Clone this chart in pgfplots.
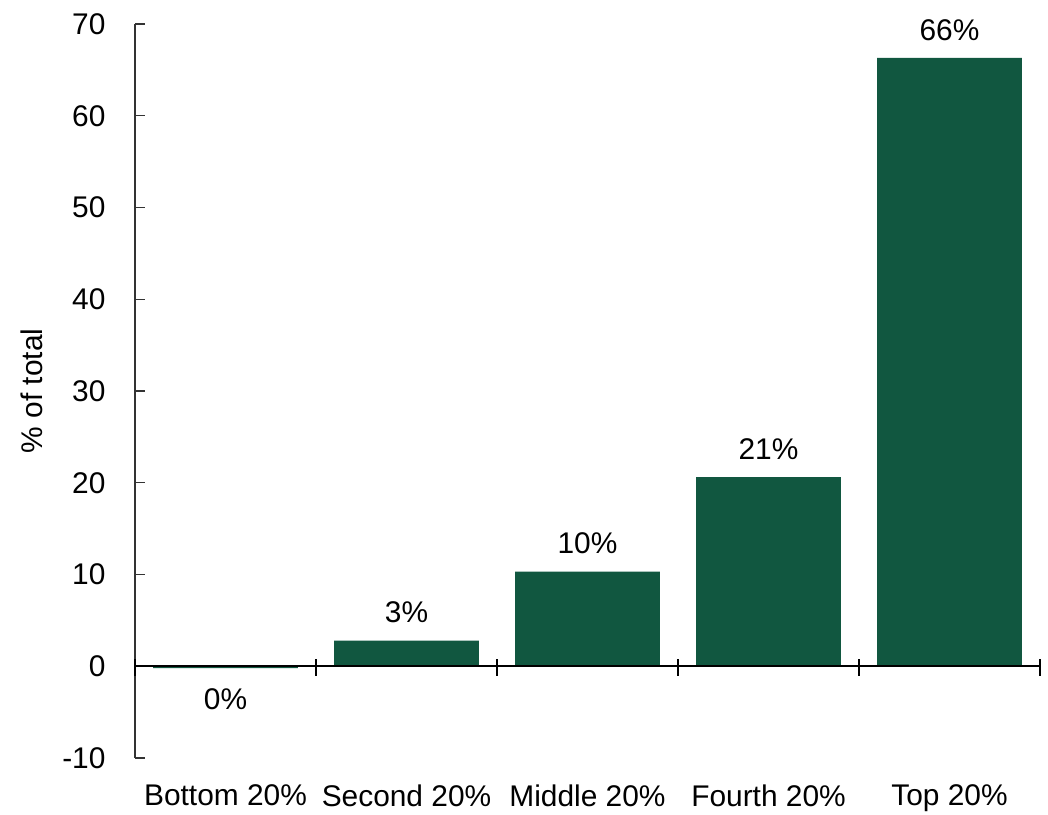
\documentclass[border=0pt]{standalone}
\usepackage{pgfplots}
\pgfplotsset{compat=1.18}
\usepackage{fontspec}
\setmainfont{Liberation Sans}
\definecolor{bargreen}{HTML}{115740}
\begin{document}
\begin{tikzpicture}
\begin{axis}[
  width=905bp, height=734bp, scale only axis,
  xmin=-0.5, xmax=4.5, ymin=-10, ymax=70,
  axis y line*=left, axis x line*=bottom,
  x axis line style={draw=none},
  y axis line style={draw=black!80, line width=1.2bp},
  ytick={-10,0,...,70},
  xtick={0,1,2,3,4},
  xticklabels={Bottom 20\%,Second 20\%,Middle 20\%,Fourth 20\%,Top 20\%},
  major x tick style={draw=none},
  major y tick style={draw=black!80, line width=1.2bp},
  major tick length=10bp,
  tick align=inside,
  ticklabel style={font=\fontsize{30}{35}\selectfont},
  /pgf/number format/assume math mode=true,
  ylabel={\% of total},
  every axis y label/.style={at={([xshift=-103bp]rel axis cs:0,0.5)}, rotate=90, anchor=center, font=\fontsize{30}{35}\selectfont},
  xticklabel style={yshift=-13bp},
  yticklabel style={xshift=-26bp},
  ybar, bar width=0.8,
  clip=false,
]
\addplot[fill=bargreen, draw=none, bar shift=0pt] coordinates {
  (0,-0.2) (1,2.8) (2,10.3) (3,20.6) (4,66.3)
};
\addplot[draw=none, fill=none, bar shift=0pt, forget plot,
  nodes near coords, point meta=explicit symbolic,
  every node near coord/.style={anchor=south, yshift=14bp, font=\fontsize{30}{35}\selectfont, text=black}]
  coordinates {
  (1,2.8) [3\%]
  (2,10.3) [10\%]
  (3,20.6) [21\%]
  (4,66.3) [66\%]
};
\addplot[draw=none, fill=none, bar shift=0pt, forget plot,
  nodes near coords, point meta=explicit symbolic,
  every node near coord/.style={anchor=north, yshift=-17bp, font=\fontsize{30}{35}\selectfont, text=black}]
  coordinates {
  (0,-0.2) [0\%]
};
\draw[black, line width=1.5bp] (axis cs:-0.5,0) -- (axis cs:4.5,0);
\pgfplotsinvokeforeach{-0.5,0.5,1.5,2.5,3.5,4.5}{
  \draw[black, line width=1.2bp] ([yshift=7bp]axis cs:#1,0) -- ([yshift=-10bp]axis cs:#1,0);
}
\path (rel axis cs:0,0) coordinate (sw);
\path (rel axis cs:1,1) coordinate (ne);
\end{axis}
\pgfresetboundingbox
\path[use as bounding box] ([shift={(-135bp,-57bp)}]sw) rectangle ([shift={(8bp,24bp)}]ne);
\end{tikzpicture}
\end{document}
